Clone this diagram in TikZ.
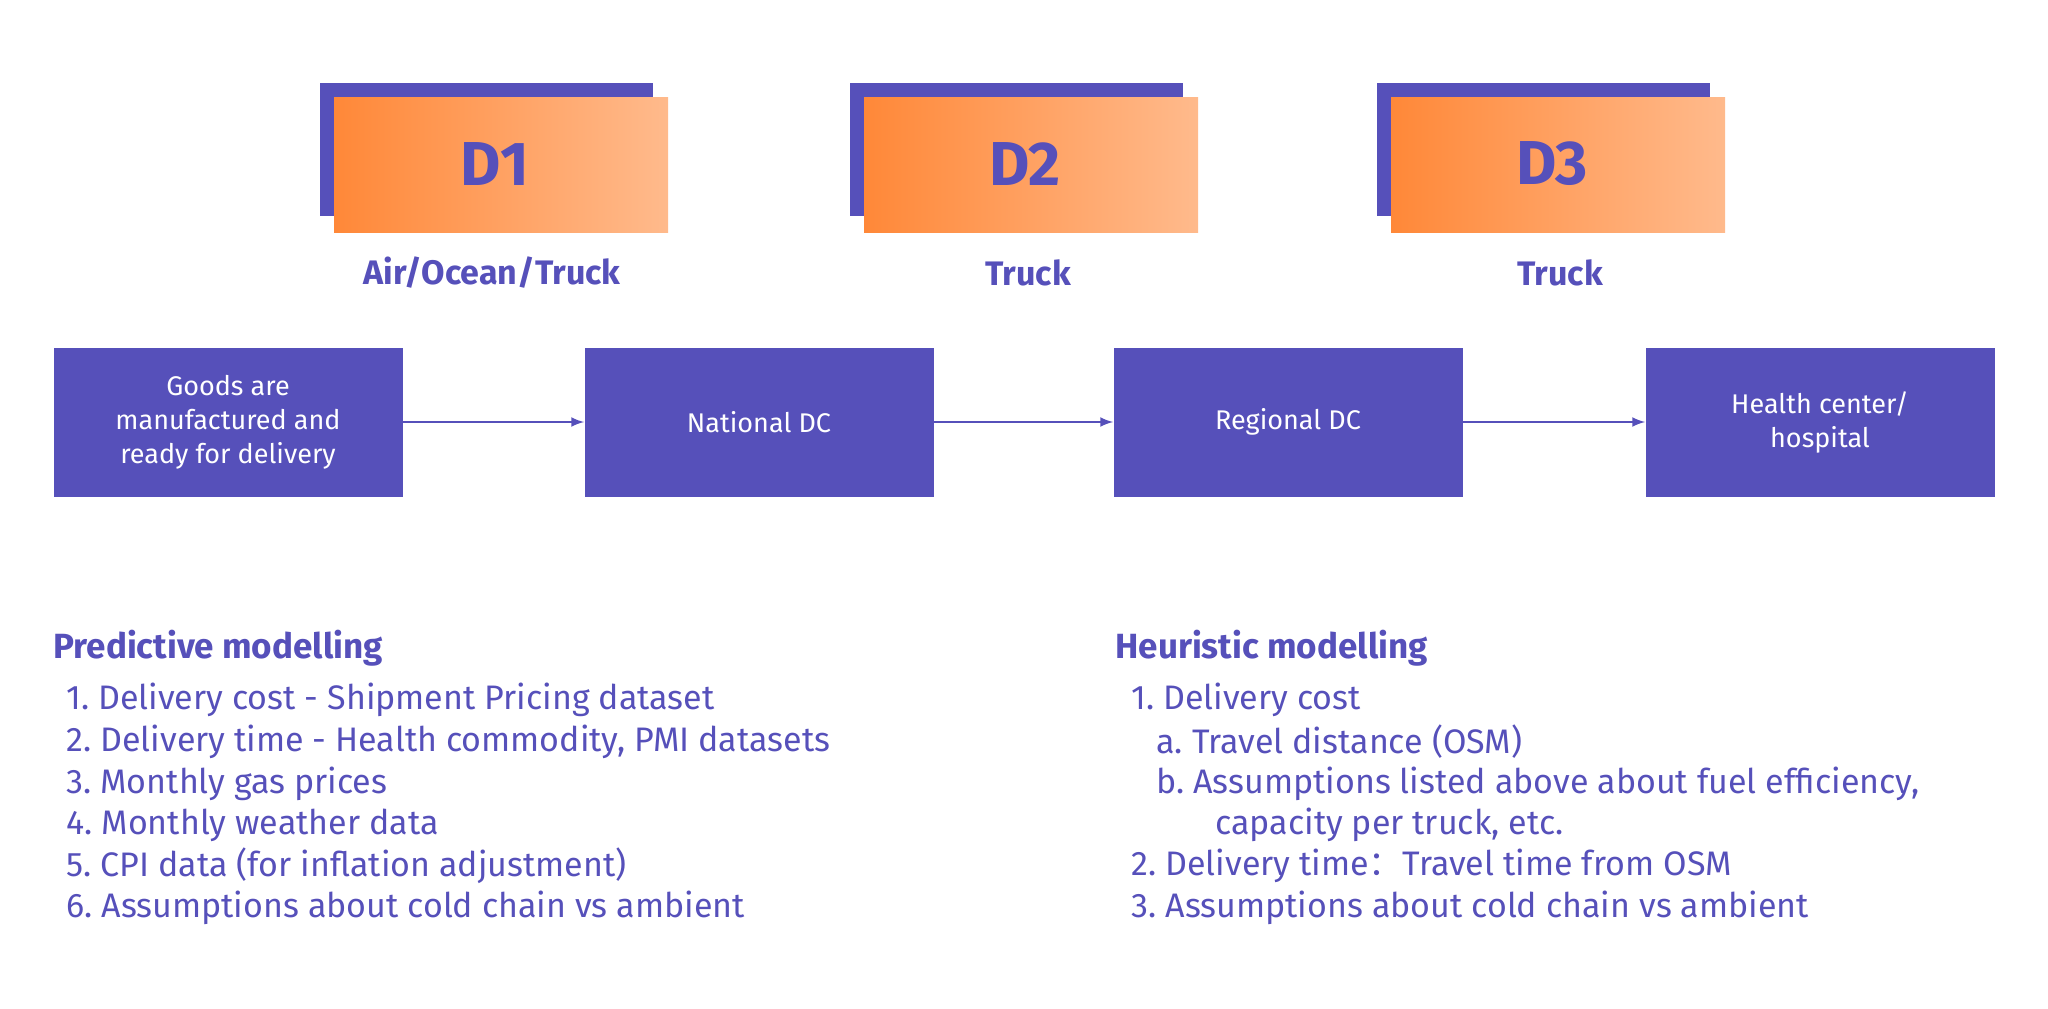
\documentclass[tikz,border=0pt]{standalone}
\usepackage{fontspec}
\setmainfont{Fira Sans}
\newfontfamily\cjk{Noto Sans CJK SC}
\usetikzlibrary{positioning}
\definecolor{dcpurple}{HTML}{5650BA}
\definecolor{dcorange}{HTML}{FF8838}
\definecolor{dclight}{HTML}{FFBA8C}
\tikzset{
  stage/.style={fill=dcpurple,text=white,minimum width=174.5pt,minimum height=74.5pt,align=center,font=\fontsize{13.5}{17}\selectfont,inner sep=2pt},
  flow/.style={->,>=latex,draw=dcpurple,line width=1.2pt},
  mode/.style={text=dcpurple,font=\bfseries\fontsize{17}{20}\selectfont},
  head/.style={text=dcpurple,font=\bfseries\fontsize{17.5}{20}\selectfont,anchor=west,inner sep=0pt},
  item/.style={text=dcpurple,font=\fontsize{17}{20}\selectfont,anchor=west,inner sep=0pt}
}
\begin{document}
\begin{tikzpicture}[x=0.5pt,y=-0.5pt]
  \useasboundingbox (0,0) rectangle (2048,1008);

  % distribution legs
  \foreach \n/\x in {1/320,2/850,3/1377}{
    \fill[dcpurple] (\x,83) rectangle +(333,133);
    \shade[left color=dcorange,right color=dclight] (\x+14,97) rectangle +(334,135);
    \node[text=dcpurple,font=\bfseries\fontsize{31}{31}\selectfont] (d\n) at (\x+175,164) {D\n};
  }
  \node[mode] (m1) at (492,273) {Air/Ocean/Truck};
  \node[mode] (m2) at (1028,273) {Truck};
  \node[mode] (m3) at (1560,273) {Truck};

  % supply chain
  \node[stage] (goods) at (228,422) {Goods are\\manufactured and\\ready for delivery};
  \node[stage] (ndc) at (759,422) {National DC};
  \node[stage] (rdc) at (1288,422) {Regional DC};
  \node[stage] (hc) at (1820,422) {Health center/\\hospital};
  \draw[flow] (goods) -- (ndc);
  \draw[flow] (ndc) -- (rdc);
  \draw[flow] (rdc) -- (hc);

  % predictive modelling
  \node[head] (ph) at (53,648) {Predictive modelling};
  \node[item] (p1) at (66,700) {1.\ Delivery cost - Shipment Pricing dataset};
  \node[item] (p2) at (66,742) {2.\ Delivery time - Health commodity, PMI datasets};
  \node[item] (p3) at (66,784) {3.\ Monthly gas prices};
  \node[item] (p4) at (66,825) {4.\ Monthly weather data};
  \node[item] (p5) at (66,866) {5.\ CPI data (for inflation adjustment)};
  \node[item] (p6) at (66,908) {6.\ Assumptions about cold chain vs ambient};

  % heuristic modelling
  \node[head] (hh) at (1115,648) {Heuristic modelling};
  \node[item] (h1) at (1131,700) {1.\ Delivery cost};
  \node[item] (h1a) at (1156,742) {a.\ Travel distance (OSM)};
  \node[item] (h1b) at (1156,784) {b.\ Assumptions listed above about fuel efficiency,};
  \node[item] (h1c) at (1215,825) {capacity per truck, etc.};
  \node[item] (h2) at (1131,866) {2.\ Delivery time{\cjk ：}Travel time from OSM};
  \node[item] (h3) at (1131,908) {3.\ Assumptions about cold chain vs ambient};
\end{tikzpicture}
\end{document}
